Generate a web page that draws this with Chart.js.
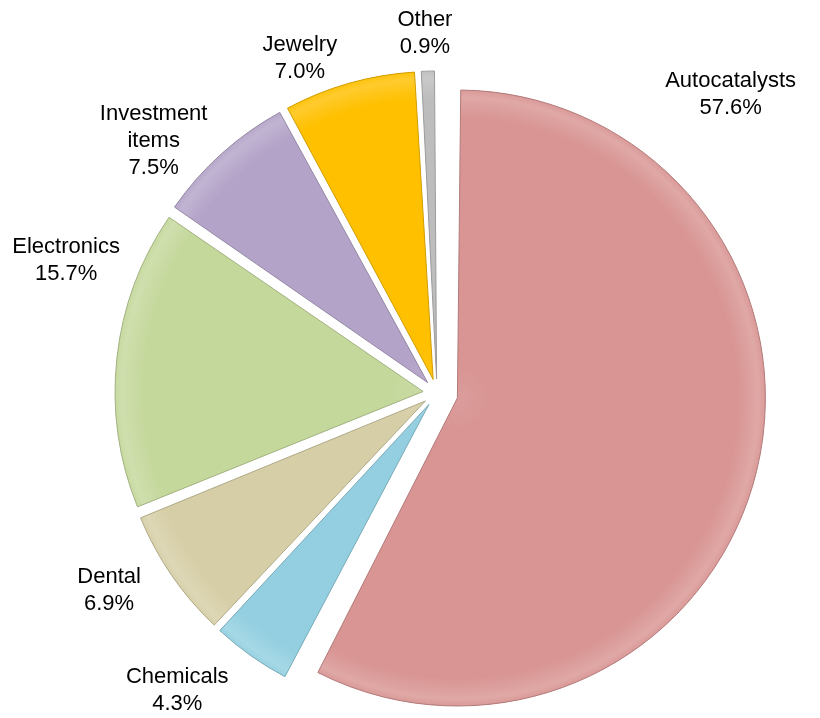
<!DOCTYPE html>
<html>
<head>
<meta charset="utf-8">
<title>Demand by application</title>
<script src="https://cdn.jsdelivr.net/npm/chart.js@4.4.1/dist/chart.umd.min.js"></script>
<style>
  body { margin: 0; background: #fff; }
  canvas { display: block; }
</style>
</head>
<body>
<canvas id="demandPie" width="820" height="718"></canvas>
<script>
// demand split by end use, percent
const categories = ["Autocatalysts", "Chemicals", "Dental", "Electronics", "Investment items", "Jewelry", "Other"];
const shares = [57.6, 4.3, 6.9, 15.7, 7.5, 7.0, 0.9];
const labelLines = [["Autocatalysts"], ["Chemicals"], ["Dental"], ["Electronics"], ["Investment", "items"], ["Jewelry"], ["Other"]];

const sliceColors = ["#d89593", "#93cfe0", "#d6cea6", "#c5d89c", "#b3a3c8", "#ffc000", "#bdbdbd"];

// how far each slice is pulled out, px
const explode = [21, 14, 14, 14, 14, 14, 14];

// label placement: turn from the slice middle (deg) and distance past the rim (px)
const labelTurn = [-59.3, 5.8, 3.4, 13.5, -6.4, -6.4, -0.3];
const labelGap = [111, 87, 75, 86, 71, 54, 52];

const radius = 308;
const lineHeight = 27;

function tint(hex, amt) {
    const n = parseInt(hex.slice(1), 16);
    const mix = c => Math.round(c + (255 - c) * amt);
    return "rgb(" + mix(n >> 16) + "," + mix((n >> 8) & 255) + "," + mix(n & 255) + ")";
}

function darken(hex, amt) {
    const n = parseInt(hex.slice(1), 16);
    const mix = c => Math.round(c * (1 - amt));
    return "rgb(" + mix(n >> 16) + "," + mix((n >> 8) & 255) + "," + mix(n & 255) + ")";
}

// soft bevel: a lighter band along the rim
function sliceFill(context) {
    const chart = context.chart;
    const area = chart.chartArea;
    const base = sliceColors[context.dataIndex];
    if (!area) {
        return base;
    }
    const cx = (area.left + area.right) / 2;
    const cy = (area.top + area.bottom) / 2;
    const g = chart.ctx.createRadialGradient(cx, cy, 0, cx, cy, radius);
    g.addColorStop(0, tint(base, 0.08));
    g.addColorStop(0.1, base);
    g.addColorStop(0.91, base);
    g.addColorStop(0.978, tint(base, 0.18));
    g.addColorStop(1, tint(base, 0.05));
    return g;
}

// Chart.js grows the radius of an offset arc; pull it back so every slice keeps the same radius
const evenRadius = {
    id: "evenRadius",
    afterDatasetUpdate(chart, args) {
        args.meta.data.forEach(arc => {
            const o = (arc.options.offset || 0) / 4;
            const fix = 1 - Math.sin(Math.min(Math.PI, arc.circumference));
            arc.outerRadius -= o * fix;
        });
    }
};

const sliceLabels = {
    id: "sliceLabels",
    afterDatasetsDraw(chart) {
        const ctx = chart.ctx;
        const arcs = chart.getDatasetMeta(0).data;
        ctx.save();
        ctx.font = "22px 'Liberation Sans', Arial, sans-serif";
        ctx.fillStyle = "#000";
        ctx.textAlign = "center";
        ctx.textBaseline = "middle";
        arcs.forEach((arc, i) => {
            const mid = (arc.startAngle + arc.endAngle) / 2 + labelTurn[i] * Math.PI / 180;
            const dist = radius + labelGap[i];
            const x = arc.x + Math.cos(mid) * dist;
            const y = arc.y + Math.sin(mid) * dist;
            const lines = labelLines[i].concat(shares[i].toFixed(1) + "%");
            const top = y - (lines.length - 1) * lineHeight / 2;
            lines.forEach((t, k) => ctx.fillText(t, x, top + k * lineHeight));
        });
        ctx.restore();
    }
};

new Chart(document.getElementById("demandPie"), {
    type: "pie",
    data: {
        labels: categories,
        datasets: [
            {
                data: shares,
                backgroundColor: sliceFill,
                borderColor: sliceColors.map(c => darken(c, 0.18)),
                borderWidth: 1,
                offset: explode.map(d => d * 4)
            }
        ]
    },
    options: {
        responsive: false,
        animation: false,
        events: [],
        radius: radius,
        layout: {
            padding: { left: 54, right: 0, top: 68, bottom: 0 }
        },
        plugins: {
            legend: { display: false },
            tooltip: { enabled: false }
        }
    },
    plugins: [evenRadius, sliceLabels]
});
</script>
</body>
</html>
